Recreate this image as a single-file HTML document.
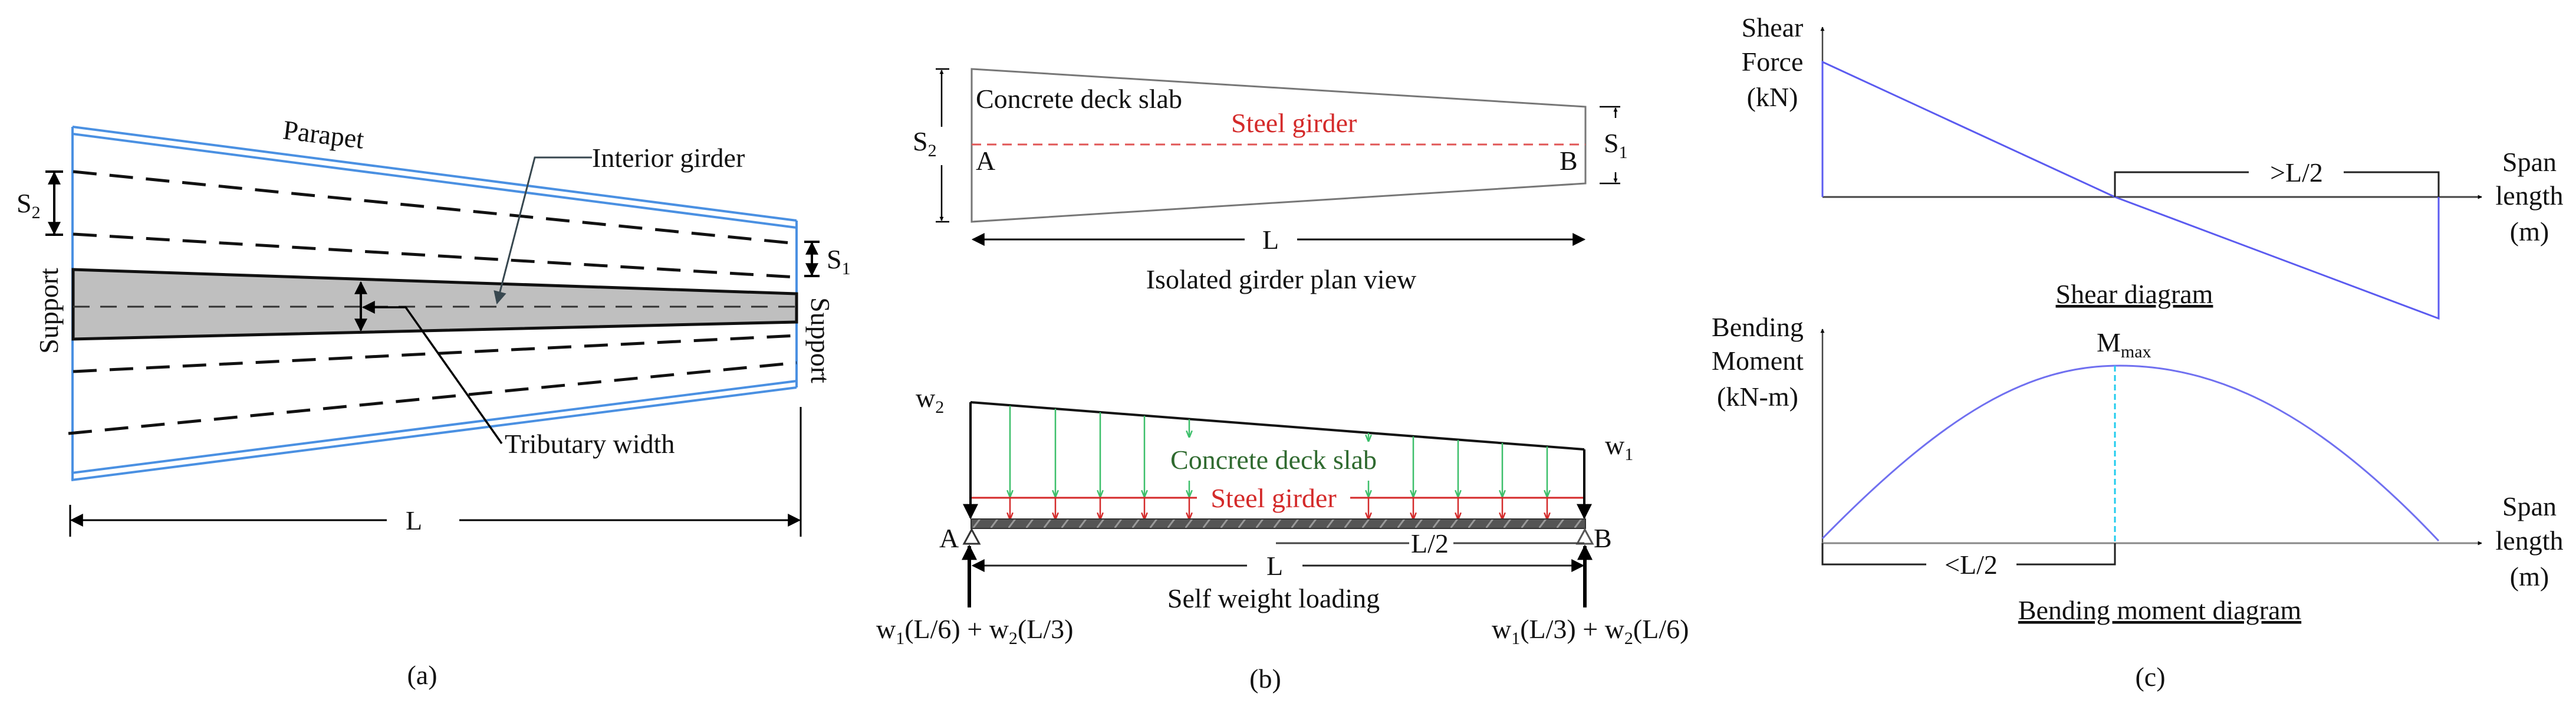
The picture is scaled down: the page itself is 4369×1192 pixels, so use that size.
<!DOCTYPE html>
<html><head><meta charset="utf-8"><style>
html,body{margin:0;padding:0;background:#fff;}
svg{display:block;}
text{font-family:"Liberation Serif",serif;font-size:46px;fill:#111;}
.s{font-size:30px;}
</style></head><body>
<svg width="4369" height="1192" viewBox="0 0 4369 1192" xmlns="http://www.w3.org/2000/svg">
<defs>
<marker id="ah" viewBox="0 0 10 10" refX="9" refY="5" markerWidth="7" markerHeight="7" orient="auto-start-reverse" markerUnits="userSpaceOnUse"><path d="M0,0L10,5L0,10z" fill="#000"/></marker>
<marker id="ahB" viewBox="0 0 10 10" refX="9" refY="5" markerWidth="24" markerHeight="22" orient="auto-start-reverse" markerUnits="userSpaceOnUse"><path d="M0,0L10,5L0,10z" fill="#000"/></marker>
<marker id="ahM" viewBox="0 0 10 10" refX="9" refY="5" markerWidth="30" markerHeight="26" orient="auto-start-reverse" markerUnits="userSpaceOnUse"><path d="M0,0L10,5L0,10z" fill="#000"/></marker>
<marker id="ahG" viewBox="0 0 10 10" refX="9" refY="5" markerWidth="12" markerHeight="12" orient="auto" markerUnits="userSpaceOnUse"><path d="M0,1L10,5L0,9" fill="none" stroke="#3cbf6a" stroke-width="2"/></marker>
<marker id="ahR" viewBox="0 0 10 10" refX="9" refY="5" markerWidth="12" markerHeight="12" orient="auto" markerUnits="userSpaceOnUse"><path d="M0,1L10,5L0,9" fill="none" stroke="#d42a2a" stroke-width="2"/></marker>
<marker id="ahS" viewBox="0 0 10 10" refX="9" refY="5" markerWidth="26" markerHeight="22" orient="auto" markerUnits="userSpaceOnUse"><path d="M0,0L10,5L0,10z" fill="#37474f"/></marker>
<pattern id="hatch" width="30" height="16" patternUnits="userSpaceOnUse"><rect width="30" height="16" fill="#555"/><path d="M0,16L12,0" stroke="#999" stroke-width="3"/></pattern>
</defs>

<!-- ===== (a) ===== -->
<g fill="none" stroke="#4a90e2" stroke-width="4">
<line x1="123" y1="215" x2="1351" y2="374"/>
<line x1="123" y1="227" x2="1351" y2="386"/>
<line x1="123" y1="215" x2="123" y2="814"/>
<line x1="1351" y1="374" x2="1351" y2="657"/>
<line x1="121" y1="802" x2="1351" y2="646"/>
<line x1="121" y1="814" x2="1351" y2="657"/>
</g>
<g stroke="#111" stroke-width="5" stroke-dasharray="40,22" fill="none">
<line x1="124" y1="291" x2="1351" y2="413"/>
<line x1="124" y1="397" x2="1351" y2="470"/>
<line x1="124" y1="630" x2="1351" y2="569"/>
<line x1="116" y1="735" x2="1351" y2="615"/>
</g>
<polygon points="124,457 1351,498 1351,546 124,575" fill="#bfbfbf" stroke="#111" stroke-width="5"/>
<line x1="124" y1="520" x2="1351" y2="520" stroke="#333" stroke-width="3" stroke-dasharray="28,18"/>
<!-- S2 -->
<line x1="77" y1="291" x2="107" y2="291" stroke="#000" stroke-width="4"/>
<line x1="77" y1="398" x2="107" y2="398" stroke="#000" stroke-width="4"/>
<line x1="92" y1="293" x2="92" y2="396" stroke="#000" stroke-width="4" marker-start="url(#ahB)" marker-end="url(#ahB)"/>
<text x="28" y="360">S<tspan class="s" dy="10">2</tspan></text>
<!-- S1 -->
<line x1="1364" y1="410" x2="1390" y2="410" stroke="#000" stroke-width="4"/>
<line x1="1364" y1="468" x2="1390" y2="468" stroke="#000" stroke-width="4"/>
<line x1="1377" y1="412" x2="1377" y2="466" stroke="#000" stroke-width="4" marker-start="url(#ahB)" marker-end="url(#ahB)"/>
<text x="1402" y="455">S<tspan class="s" dy="10">1</tspan></text>
<!-- tributary -->
<line x1="612" y1="479" x2="612" y2="560" stroke="#000" stroke-width="4" marker-start="url(#ahB)" marker-end="url(#ahB)"/>
<polyline points="851,752 688,521 616,521" fill="none" stroke="#000" stroke-width="3.5" marker-end="url(#ahB)"/>
<text x="856" y="768">Tributary width</text>
<!-- interior girder -->
<polyline points="1004,267 907,267 843,514" fill="none" stroke="#37474f" stroke-width="3" marker-end="url(#ahS)"/>
<text x="1004" y="283">Interior girder</text>
<text x="479" y="245" transform="rotate(7 560 235)">Parapet</text>
<text x="0" y="0" transform="translate(98 527) rotate(-90)" text-anchor="middle">Support</text>
<text x="0" y="0" transform="translate(1376 577) rotate(90)" text-anchor="middle">Support</text>
<!-- L -->
<line x1="119" y1="856" x2="119" y2="910" stroke="#000" stroke-width="3"/>
<line x1="1358" y1="690" x2="1358" y2="910" stroke="#000" stroke-width="3"/>
<line x1="121" y1="882" x2="656" y2="882" stroke="#000" stroke-width="3" marker-start="url(#ahB)"/>
<line x1="779" y1="882" x2="1356" y2="882" stroke="#000" stroke-width="3" marker-end="url(#ahB)"/>
<text x="702" y="898" text-anchor="middle">L</text>
<text x="716" y="1160" text-anchor="middle">(a)</text>

<!-- ===== (b) top ===== -->
<polygon points="1648,117 2689,181 2689,311 1648,376" fill="none" stroke="#777" stroke-width="3"/>
<line x1="1648" y1="245" x2="2689" y2="245" stroke="#e05555" stroke-width="3" stroke-dasharray="16,10"/>
<line x1="1587" y1="117" x2="1610" y2="117" stroke="#000" stroke-width="2.5"/>
<line x1="1587" y1="376" x2="1610" y2="376" stroke="#000" stroke-width="2.5"/>
<line x1="1597" y1="119" x2="1597" y2="215" stroke="#000" stroke-width="2.5" marker-start="url(#ah)"/>
<line x1="1597" y1="280" x2="1597" y2="374" stroke="#000" stroke-width="2.5" marker-end="url(#ah)"/>
<text x="1548" y="255">S<tspan class="s" dy="10">2</tspan></text>
<line x1="2713" y1="181" x2="2748" y2="181" stroke="#000" stroke-width="2.5"/>
<line x1="2713" y1="311" x2="2748" y2="311" stroke="#000" stroke-width="2.5"/>
<line x1="2740" y1="183" x2="2740" y2="200" stroke="#000" stroke-width="2.5" marker-start="url(#ah)"/>
<line x1="2740" y1="292" x2="2740" y2="309" stroke="#000" stroke-width="2.5" marker-end="url(#ah)"/>
<text x="2720" y="258">S<tspan class="s" dy="10">1</tspan></text>
<text x="1655" y="183">Concrete deck slab</text>
<text x="2088" y="224" style="fill:#d42a2a">Steel girder</text>
<text x="1655" y="288">A</text>
<text x="2645" y="288">B</text>
<line x1="1650" y1="406" x2="2111" y2="406" stroke="#000" stroke-width="3" marker-start="url(#ahB)"/>
<line x1="2200" y1="406" x2="2687" y2="406" stroke="#000" stroke-width="3" marker-end="url(#ahB)"/>
<text x="2155" y="422" text-anchor="middle">L</text>
<text x="2173" y="489" text-anchor="middle">Isolated girder plan view</text>

<!-- ===== (b) bottom ===== -->
<line x1="1646" y1="682" x2="2687" y2="762" stroke="#111" stroke-width="4"/>
<g stroke="#3cbf6a" stroke-width="2.5" marker-end="url(#ahG)">
<line x1="1713" y1="688" x2="1713" y2="842"/>
<line x1="1790" y1="693" x2="1790" y2="842"/>
<line x1="1866" y1="699" x2="1866" y2="842"/>
<line x1="1941" y1="705" x2="1941" y2="842"/>
<line x1="2017" y1="711" x2="2017" y2="741"/>
<line x1="2017" y1="815" x2="2017" y2="842"/>
<line x1="2321" y1="734" x2="2321" y2="748"/>
<line x1="2321" y1="815" x2="2321" y2="842"/>
<line x1="2397" y1="740" x2="2397" y2="842"/>
<line x1="2473" y1="746" x2="2473" y2="842"/>
<line x1="2548" y1="751" x2="2548" y2="842"/>
<line x1="2624" y1="757" x2="2624" y2="842"/>
</g>
<line x1="1646" y1="844" x2="2030" y2="844" stroke="#d42a2a" stroke-width="3"/>
<line x1="2290" y1="844" x2="2687" y2="844" stroke="#d42a2a" stroke-width="3"/>
<g stroke="#d42a2a" stroke-width="2.5" marker-end="url(#ahR)">
<line x1="1713" y1="845" x2="1713" y2="880"/>
<line x1="1790" y1="845" x2="1790" y2="880"/>
<line x1="1866" y1="845" x2="1866" y2="880"/>
<line x1="1941" y1="845" x2="1941" y2="880"/>
<line x1="2017" y1="845" x2="2017" y2="880"/>
<line x1="2321" y1="845" x2="2321" y2="880"/>
<line x1="2397" y1="845" x2="2397" y2="880"/>
<line x1="2473" y1="845" x2="2473" y2="880"/>
<line x1="2548" y1="845" x2="2548" y2="880"/>
<line x1="2624" y1="845" x2="2624" y2="880"/>
</g>
<text x="2160" y="795" text-anchor="middle" style="fill:#2f6a2f">Concrete deck slab</text>
<text x="2160" y="860" text-anchor="middle" style="fill:#d42a2a">Steel girder</text>
<line x1="1646" y1="682" x2="1646" y2="878" stroke="#000" stroke-width="4" marker-end="url(#ahM)"/>
<line x1="2687" y1="762" x2="2687" y2="878" stroke="#000" stroke-width="4" marker-end="url(#ahM)"/>
<rect x="1647" y="880" width="1042" height="16" fill="url(#hatch)" stroke="#333" stroke-width="2"/>
<polygon points="1648,898 1635,922 1661,922" fill="#fff" stroke="#333" stroke-width="3"/>
<polygon points="2688,898 2675,922 2701,922" fill="#fff" stroke="#555" stroke-width="3"/>
<text x="1593" y="928">A</text>
<text x="2703" y="928">B</text>
<line x1="2164" y1="921" x2="2390" y2="921" stroke="#444" stroke-width="3"/>
<line x1="2465" y1="921" x2="2687" y2="921" stroke="#444" stroke-width="3"/>
<text x="2425" y="937" text-anchor="middle">L/2</text>
<line x1="1650" y1="959" x2="2115" y2="959" stroke="#222" stroke-width="3" marker-start="url(#ahB)"/>
<line x1="2209" y1="959" x2="2685" y2="959" stroke="#222" stroke-width="3" marker-end="url(#ahB)"/>
<text x="2162" y="975" text-anchor="middle">L</text>
<line x1="1644" y1="1030" x2="1644" y2="926" stroke="#000" stroke-width="6" marker-end="url(#ahM)"/>
<line x1="2688" y1="1030" x2="2688" y2="926" stroke="#000" stroke-width="6" marker-end="url(#ahM)"/>
<text x="2160" y="1030" text-anchor="middle">Self weight loading</text>
<text x="1486" y="1082">w<tspan class="s" dy="10">1</tspan><tspan dy="-10">(L/6) + w</tspan><tspan class="s" dy="10">2</tspan><tspan dy="-10">(L/3)</tspan></text>
<text x="2530" y="1082">w<tspan class="s" dy="10">1</tspan><tspan dy="-10">(L/3) + w</tspan><tspan class="s" dy="10">2</tspan><tspan dy="-10">(L/6)</tspan></text>
<text x="1553" y="690">w<tspan class="s" dy="10">2</tspan></text>
<text x="2722" y="770">w<tspan class="s" dy="10">1</tspan></text>
<text x="2146" y="1166" text-anchor="middle">(b)</text>

<!-- ===== (c) ===== -->
<line x1="3091" y1="334" x2="3091" y2="46" stroke="#444" stroke-width="2.5" marker-end="url(#ah)"/>
<line x1="3091" y1="334" x2="4209" y2="334" stroke="#444" stroke-width="3" marker-end="url(#ah)"/>
<polyline points="3091,334 3091,105 3587,334 4136,540 4136,334" fill="none" stroke="#5b5bf0" stroke-width="3"/>
<polyline points="3587,334 3587,292 3814,292" fill="none" stroke="#222" stroke-width="3"/>
<polyline points="3975,292 4136,292 4136,334" fill="none" stroke="#222" stroke-width="3"/>
<text x="3895" y="308" text-anchor="middle">&gt;L/2</text>
<text x="3006" y="62" text-anchor="middle">Shear</text>
<text x="3006" y="120" text-anchor="middle">Force</text>
<text x="3006" y="180" text-anchor="middle">(kN)</text>
<text x="4290" y="290" text-anchor="middle">Span</text>
<text x="4290" y="347" text-anchor="middle">length</text>
<text x="4290" y="408" text-anchor="middle">(m)</text>
<text x="3620" y="514" text-anchor="middle" text-decoration="underline">Shear diagram</text>

<line x1="3091" y1="921" x2="3091" y2="558" stroke="#444" stroke-width="2.5" marker-end="url(#ah)"/>
<line x1="3091" y1="921" x2="4209" y2="921" stroke="#888" stroke-width="3" marker-end="url(#ah)"/>
<path d="M3091,913 C3300,700 3440,620 3595,620 C3780,620 3950,720 4136,917" fill="none" stroke="#7070f0" stroke-width="3"/>
<line x1="3587" y1="620" x2="3587" y2="921" stroke="#22ccee" stroke-width="3" stroke-dasharray="10,6"/>
<polyline points="3091,921 3091,957 3267,957" fill="none" stroke="#222" stroke-width="3"/>
<polyline points="3420,957 3587,957 3587,921" fill="none" stroke="#222" stroke-width="3"/>
<text x="3343" y="973" text-anchor="middle">&lt;L/2</text>
<text x="3556" y="596">M<tspan class="s" dy="10">max</tspan></text>
<text x="2981" y="570" text-anchor="middle">Bending</text>
<text x="2981" y="627" text-anchor="middle">Moment</text>
<text x="2981" y="688" text-anchor="middle">(kN-m)</text>
<text x="4290" y="874" text-anchor="middle">Span</text>
<text x="4290" y="932" text-anchor="middle">length</text>
<text x="4290" y="993" text-anchor="middle">(m)</text>
<text x="3663" y="1050" text-anchor="middle" text-decoration="underline">Bending moment diagram</text>
<text x="3647" y="1163" text-anchor="middle">(c)</text>
</svg>
</body></html>
